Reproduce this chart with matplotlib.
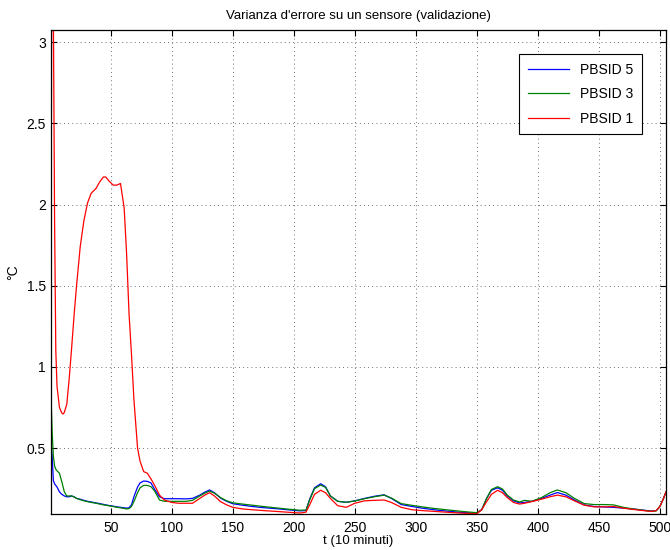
import matplotlib.pyplot as plt

plt.rcParams['font.family'] = ['Liberation Sans', 'DejaVu Sans']

# campioni (t in passi da 10 minuti)
t = [1, 2, 3, 4, 5, 6, 8, 10, 11, 12, 14, 16, 18, 20, 22, 25, 28, 31, 34, 38,
     41, 44, 46, 48, 52, 55, 58, 61, 63, 65, 67, 69, 72, 74, 77, 80, 83, 86, 90, 94,
     100, 106, 112, 117, 123, 127, 131, 135, 140, 145, 150, 158, 166, 175, 185, 195, 205, 210, 213, 217,
     222, 226, 230, 236, 243, 250, 258, 266, 274, 280, 288, 297, 305, 315, 325, 335, 345, 350, 354, 358,
     362, 367, 371, 375, 380, 385, 389, 395, 403, 410, 416, 423, 430, 438, 446, 455, 462, 470, 478, 486,
     493, 497, 500, 503, 505]

pbsid5 = [0.55, 0.45, 0.30, 0.28, 0.27, 0.26, 0.23, 0.215, 0.21, 0.205, 0.20, 0.20, 0.205, 0.20, 0.19, 0.185, 0.178, 0.172, 0.168, 0.162,
          0.158, 0.153, 0.150, 0.147, 0.142, 0.138, 0.135, 0.132, 0.130, 0.132, 0.150, 0.20, 0.26, 0.285, 0.297, 0.295, 0.285, 0.245, 0.20, 0.188,
          0.188, 0.188, 0.187, 0.19, 0.21, 0.228, 0.242, 0.225, 0.192, 0.172, 0.157, 0.148, 0.14, 0.133, 0.127, 0.12, 0.113, 0.115, 0.185, 0.255,
          0.28, 0.262, 0.205, 0.172, 0.166, 0.175, 0.19, 0.203, 0.212, 0.19, 0.152, 0.14, 0.13, 0.12, 0.112, 0.105, 0.10, 0.10, 0.12, 0.19,
          0.24, 0.255, 0.24, 0.205, 0.175, 0.162, 0.165, 0.172, 0.19, 0.21, 0.226, 0.21, 0.18, 0.15, 0.14, 0.137, 0.135, 0.13, 0.125, 0.118,
          0.112, 0.115, 0.14, 0.19, 0.23]

pbsid3 = [0.85, 0.60, 0.45, 0.39, 0.37, 0.36, 0.345, 0.29, 0.26, 0.23, 0.205, 0.205, 0.205, 0.198, 0.19, 0.182, 0.175, 0.17, 0.165, 0.16,
          0.155, 0.15, 0.148, 0.145, 0.14, 0.135, 0.132, 0.128, 0.125, 0.127, 0.14, 0.17, 0.225, 0.255, 0.27, 0.27, 0.262, 0.235, 0.18, 0.172,
          0.172, 0.172, 0.172, 0.178, 0.205, 0.222, 0.235, 0.222, 0.195, 0.175, 0.163, 0.155, 0.148, 0.14, 0.132, 0.124, 0.117, 0.118, 0.18, 0.25,
          0.272, 0.258, 0.205, 0.172, 0.166, 0.174, 0.188, 0.20, 0.21, 0.192, 0.158, 0.147, 0.138, 0.128, 0.12, 0.112, 0.105, 0.102, 0.12, 0.19,
          0.245, 0.262, 0.248, 0.21, 0.18, 0.168, 0.178, 0.172, 0.195, 0.225, 0.242, 0.225, 0.19, 0.158, 0.152, 0.152, 0.15, 0.135, 0.125, 0.117,
          0.11, 0.113, 0.14, 0.19, 0.23]

pbsid1 = [1.30, 4.50, 3.20, 1.90, 1.10, 0.88, 0.75, 0.715, 0.71, 0.72, 0.77, 0.93, 1.12, 1.32, 1.50, 1.74, 1.90, 2.01, 2.07, 2.10,
          2.14, 2.17, 2.17, 2.15, 2.12, 2.12, 2.13, 1.98, 1.70, 1.33, 1.08, 0.80, 0.50, 0.42, 0.355, 0.345, 0.31, 0.27, 0.21, 0.18,
          0.165, 0.16, 0.16, 0.16, 0.19, 0.21, 0.225, 0.205, 0.17, 0.15, 0.135, 0.125, 0.12, 0.115, 0.11, 0.105, 0.10, 0.105, 0.15, 0.215,
          0.24, 0.225, 0.19, 0.145, 0.135, 0.16, 0.175, 0.178, 0.18, 0.165, 0.135, 0.12, 0.115, 0.11, 0.105, 0.10, 0.097, 0.095, 0.12, 0.17,
          0.215, 0.24, 0.225, 0.195, 0.165, 0.155, 0.16, 0.17, 0.185, 0.20, 0.21, 0.20, 0.175, 0.148, 0.138, 0.138, 0.14, 0.13, 0.122, 0.115,
          0.11, 0.115, 0.14, 0.19, 0.23]

fig = plt.figure(figsize=(6.7, 5.5), dpi=100)
ax = fig.add_axes([0.076, 0.0655, 0.918, 0.8795])

ax.plot(t, pbsid5, color='#0000ff', lw=0.9, label='PBSID 5')
ax.plot(t, pbsid3, color='#008000', lw=0.9, label='PBSID 3')
ax.plot(t, pbsid1, color='#ff0000', lw=0.9, label='PBSID 1')

ax.set_xlim(1, 505)
ax.set_ylim(0.094, 3.074)
ax.set_xticks(range(50, 501, 50))
ax.set_yticks([0.5, 1, 1.5, 2, 2.5, 3])
ax.set_yticklabels(['0.5', '1', '1.5', '2', '2.5', '3'])
ax.grid(True, linestyle=(0, (1, 4)), color='#444444', linewidth=0.6)
ax.tick_params(direction='in', top=True, right=True, labelsize=10, length=4)
ax.tick_params(axis='x', pad=5)
for s in ax.spines.values():
    s.set_linewidth(0.9)

ax.set_title("Varianza d'errore su un sensore (validazione)", fontsize=9.5, pad=8)
ax.set_xlabel('t (10 minuti)', fontsize=9.5, labelpad=0)
ax.set_ylabel('°C', fontsize=10, labelpad=5)

leg = ax.legend(loc='upper right', bbox_to_anchor=(0.961, 0.950), fontsize=10,
                fancybox=False, framealpha=1, edgecolor='black',
                handlelength=3.0, borderpad=0.6, labelspacing=0.75, borderaxespad=0)
leg.get_frame().set_linewidth(0.8)

fig.savefig('out.png', dpi=100)
